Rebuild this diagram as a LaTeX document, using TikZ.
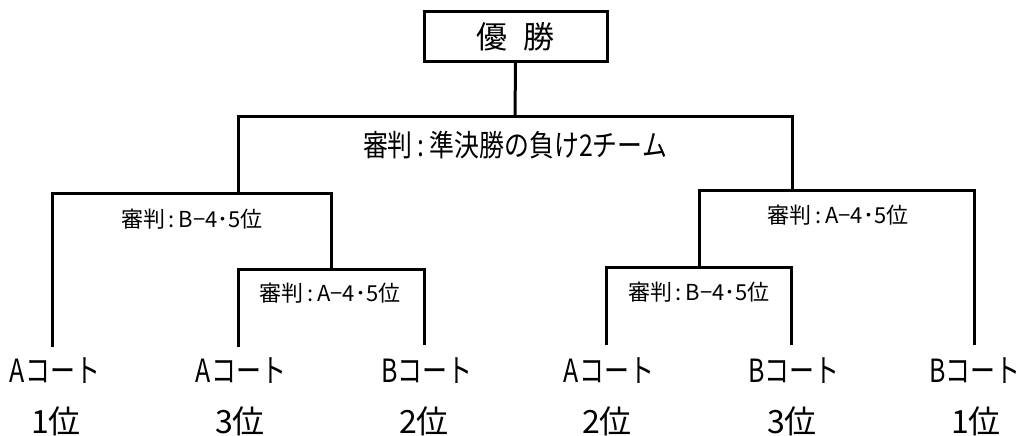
\documentclass[tikz,border=0pt]{standalone}
\usepackage{fontspec}
\setmainfont{Noto Sans CJK JP}
\newfontfamily\condfont[FakeStretch=0.78]{Noto Sans CJK JP}
\newfontfamily\labfont[FakeStretch=0.83]{Noto Sans CJK JP}
\begin{document}
\begin{tikzpicture}[x=1pt,y=-1pt,
  br/.style={line width=3pt,line cap=rect},
  titlebox/.style={draw,line width=3pt,minimum width=183pt,minimum height=50pt,inner sep=0pt,font=\fontsize{31}{31}\selectfont},
  mainlab/.style={inner sep=0pt,font=\labfont\fontsize{30}{30}\selectfont},
  sublab/.style={inner sep=0pt,font=\fontsize{22}{22}\selectfont},
  court/.style={inner sep=0pt,font=\condfont\fontsize{32}{32}\selectfont},
  rank/.style={inner sep=0pt,font=\fontsize{32}{32}\selectfont}]
\useasboundingbox[fill=white] (0,0) rectangle (1022,436);
% title
\node[titlebox] (win) at (515.5,37) {優\hspace{17pt}勝};
% junctions
\coordinate (m0) at (515,116);
\coordinate (sL) at (238,193);
\coordinate (sR) at (792,190);
\coordinate (iL) at (331,269);
\coordinate (iR) at (699,267);
% leaf tops
\coordinate (t1) at (52,345);
\coordinate (t2) at (238,345);
\coordinate (t3) at (424,343);
\coordinate (t4) at (606,343);
\coordinate (t5) at (791,343);
\coordinate (t6) at (974,343);
% connectors
\draw[br] (win.south) -- (m0);
\draw[br] (sL) |- (m0) -| (sR);
\draw[br] (t1) |- (sL) -| (iL);
\draw[br] (t2) |- (iL) -| (t3);
\draw[br] (iR) |- (sR) -| (t6);
\draw[br] (t4) |- (iR) -| (t5);
% labels
\node[mainlab] (lab0) at (515,145) {審判\,:\,準決勝の負け2チーム};
\node[sublab] (labL) at (192,219) {審判\,:\,B−4･5位};
\node[sublab] (labLi) at (330,293) {審判\,:\,A−4･5位};
\node[sublab] (labR) at (838,215) {審判\,:\,A−4･5位};
\node[sublab] (labRi) at (699,292) {審判\,:\,B−4･5位};
% leaves
\node[court] (c1) at (55,371) {Aコート};
\node[court] (c2) at (241,371) {Aコート};
\node[court] (c3) at (427,371) {Bコート};
\node[court] (c4) at (609,371) {Aコート};
\node[court] (c5) at (794,371) {Bコート};
\node[court] (c6) at (975,371) {Bコート};
\node[rank] (r1) at (56,421) {1位};
\node[rank] (r2) at (240,421) {3位};
\node[rank] (r3) at (424,421) {2位};
\node[rank] (r4) at (607,421) {2位};
\node[rank] (r5) at (792,421) {3位};
\node[rank] (r6) at (976,421) {1位};
\end{tikzpicture}
\end{document}
